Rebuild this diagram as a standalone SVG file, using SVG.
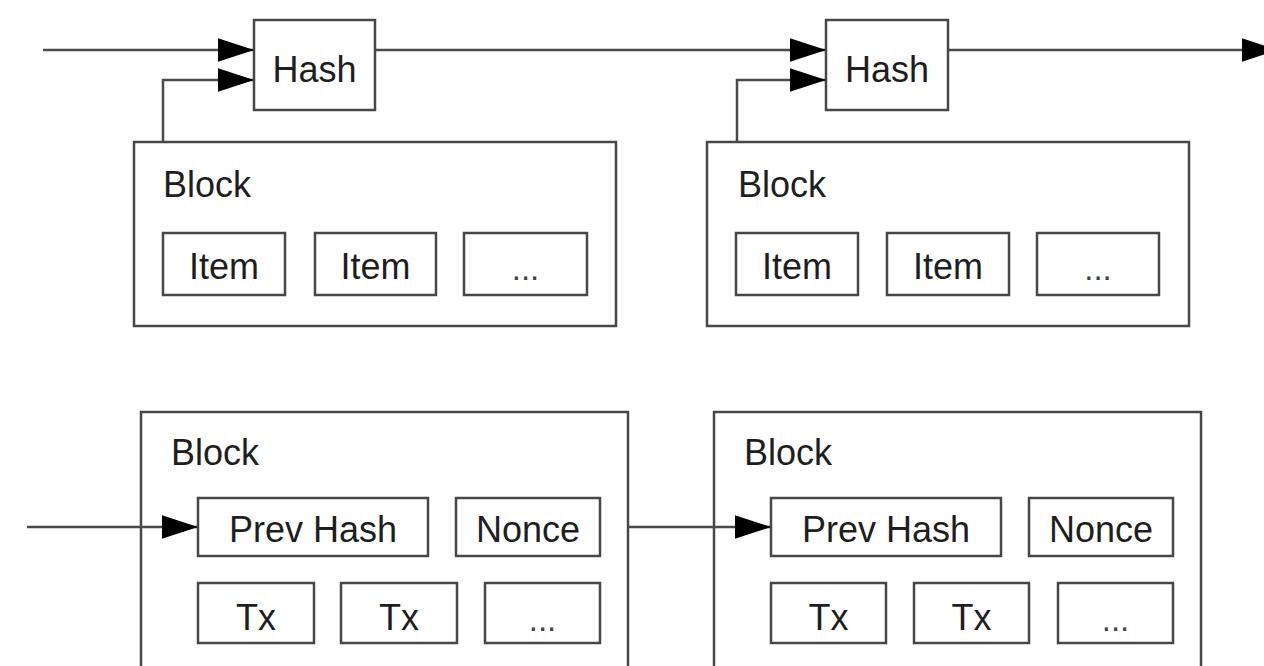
<svg xmlns="http://www.w3.org/2000/svg" width="1264" height="666" viewBox="0 0 1264 666">
<style>
.box{fill:#fff;stroke:#474747;stroke-width:2.5}
.t{font-family:"Liberation Sans",Arial,sans-serif;font-size:36px;fill:#1e1e1e}
.c{text-anchor:middle}
.dots{font-family:"Liberation Sans",Arial,sans-serif;font-size:33px;fill:#444;text-anchor:middle}
.ln{fill:none;stroke:#4a4a4a;stroke-width:2.5}
</style>
<defs>
<marker id="ah" markerUnits="userSpaceOnUse" markerWidth="36" markerHeight="24" viewBox="0 0 35 23" refX="35" refY="11.5" orient="auto">
<path d="M0,0 L35,11.5 L0,23 z" fill="#000"/>
</marker>
</defs>
<rect width="1264" height="666" fill="#fff"/>

<g id="block1">
<rect class="box" x="134" y="142" width="482" height="184"/>
<text class="t" x="163" y="197">Block</text>
<rect class="box" x="163" y="233" width="122" height="62"/>
<text class="t c" x="224" y="279">Item</text>
<rect class="box" x="315" y="233" width="121" height="62"/>
<text class="t c" x="375.5" y="279">Item</text>
<rect class="box" x="464" y="233" width="123" height="62"/>
<text class="dots" x="525.5" y="280">...</text>
</g>

<g id="block2">
<rect class="box" x="707" y="142" width="482" height="184"/>
<text class="t" x="738" y="197">Block</text>
<rect class="box" x="736" y="233" width="122" height="62"/>
<text class="t c" x="797" y="279">Item</text>
<rect class="box" x="887" y="233" width="122" height="62"/>
<text class="t c" x="948" y="279">Item</text>
<rect class="box" x="1037" y="233" width="122" height="62"/>
<text class="dots" x="1098" y="280">...</text>
</g>

<g id="hash1">
<rect class="box" x="254" y="20" width="121" height="90"/>
<text class="t c" x="314.5" y="82">Hash</text>
</g>

<g id="hash2">
<rect class="box" x="826" y="20" width="122" height="90"/>
<text class="t c" x="887" y="82">Hash</text>
</g>

<g id="block3">
<rect class="box" x="141" y="412" width="487" height="300"/>
<text class="t" x="171" y="465">Block</text>
<rect class="box" x="198" y="498" width="230" height="58"/>
<text class="t c" x="313" y="542">Prev Hash</text>
<rect class="box" x="456" y="498" width="144" height="58"/>
<text class="t c" x="528" y="542">Nonce</text>
<rect class="box" x="198" y="583" width="116" height="60"/>
<text class="t c" x="256" y="630">Tx</text>
<rect class="box" x="341" y="583" width="116" height="60"/>
<text class="t c" x="399" y="630">Tx</text>
<rect class="box" x="485" y="583" width="115" height="60"/>
<text class="dots" x="542.5" y="631">...</text>
</g>

<g id="block4">
<rect class="box" x="714" y="412" width="487" height="300"/>
<text class="t" x="744" y="465">Block</text>
<rect class="box" x="771" y="498" width="230" height="58"/>
<text class="t c" x="886" y="542">Prev Hash</text>
<rect class="box" x="1029" y="498" width="144" height="58"/>
<text class="t c" x="1101" y="542">Nonce</text>
<rect class="box" x="771" y="583" width="115" height="60"/>
<text class="t c" x="828.5" y="630">Tx</text>
<rect class="box" x="914" y="583" width="115" height="60"/>
<text class="t c" x="971.5" y="630">Tx</text>
<rect class="box" x="1058" y="583" width="115" height="60"/>
<text class="dots" x="1115.5" y="631">...</text>
</g>

<g id="connectors">
<path class="ln" d="M43,50 H254" marker-end="url(#ah)"/>
<path class="ln" d="M163,142 V80 H254" marker-end="url(#ah)"/>
<path class="ln" d="M375,50 H826" marker-end="url(#ah)"/>
<path class="ln" d="M737,142 V80 H826" marker-end="url(#ah)"/>
<path class="ln" d="M948,50 H1278" marker-end="url(#ah)"/>
<path class="ln" d="M27,527 H198" marker-end="url(#ah)"/>
<path class="ln" d="M628,527 H771" marker-end="url(#ah)"/>
</g>
</svg>
